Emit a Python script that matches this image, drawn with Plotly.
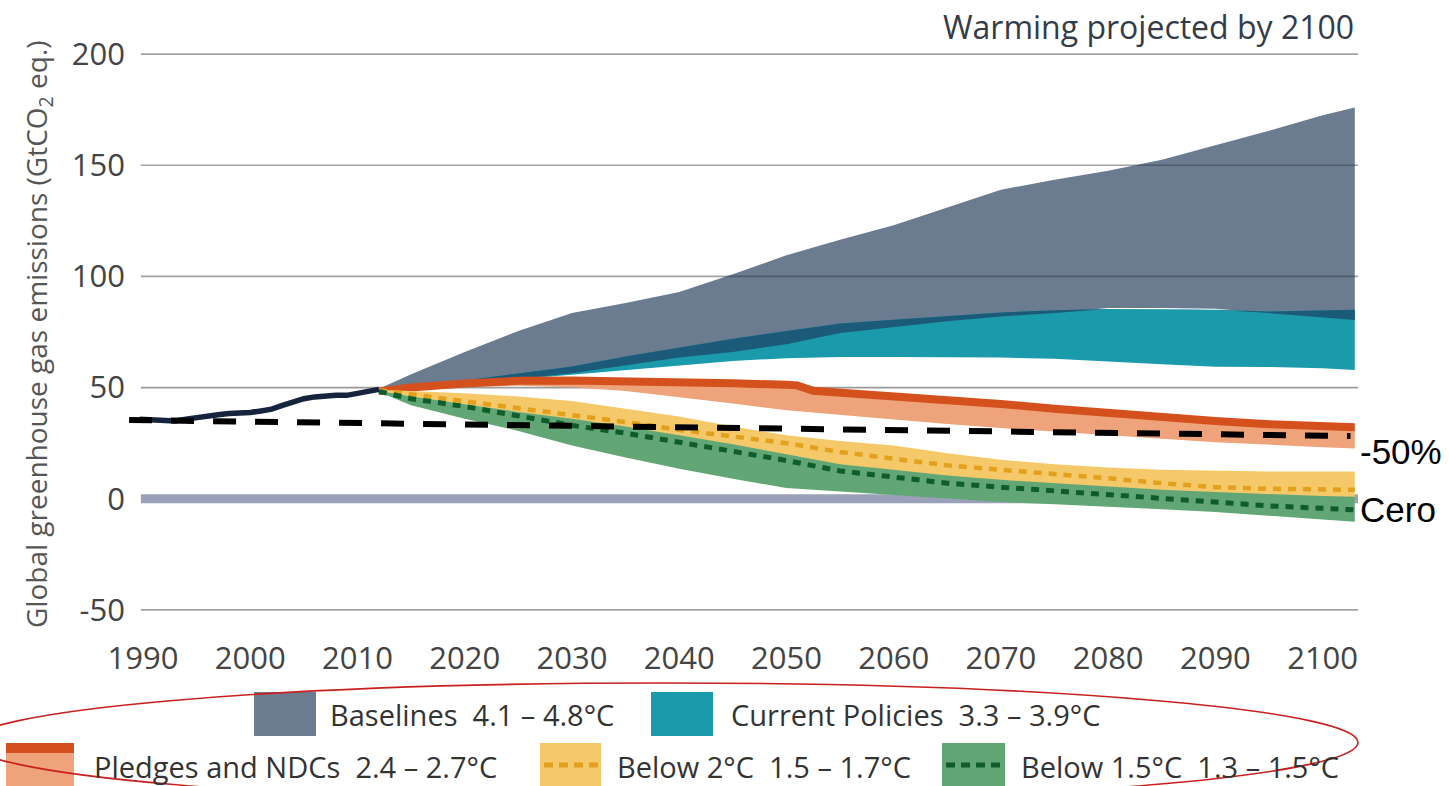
import numpy as np
import plotly.graph_objects as go

# ---------------- data ----------------
years = [2012, 2015, 2020, 2025, 2030, 2035, 2040, 2045, 2050, 2055, 2060,
         2065, 2070, 2075, 2080, 2085, 2090, 2095, 2100, 2103]

base_hi = [49.5, 56, 66, 75.5, 83.5, 88, 93, 101, 109.5, 116.5, 123,
           131, 139, 143.5, 147.5, 152.5, 159, 165.5, 172.5, 176]
base_lo = [49.5, 49.8, 51.5, 54, 56.5, 60, 63.5, 66, 69.5, 74.5, 77.2,
           79.8, 82, 83.5, 85.8, 85.8, 85.5, 83.5, 81.5, 80.4]

cur_hi = [49.5, 50.5, 53.2, 56.5, 59.5, 64, 68, 72, 75.5, 78.8, 80.5,
          82, 83.8, 84.8, 85.3, 85.2, 85, 84.2, 84.5, 85]
cur_lo = [49.5, 49.8, 51.5, 53.8, 56, 58, 60, 62, 63.2, 63.7, 63.8,
          63.8, 63.5, 63, 61.7, 60.5, 59.4, 59.3, 58.7, 57.9]

pl_years = [2012, 2015, 2020, 2025, 2030, 2035, 2040, 2045, 2050, 2051, 2052.5,
            2055, 2060, 2065, 2070, 2075, 2080, 2085, 2090, 2095, 2100, 2103]
pl_line = [48.3, 50, 51.8, 53.1, 53.2, 53, 52.5, 51.9, 51.3, 51, 48.6,
           47.8, 46.5, 44.4, 42.6, 40.5, 38.5, 36.6, 35, 33.5, 32.2, 32.1]
pl_lo = [48.3, 49.3, 50.3, 50.8, 50.2, 48.5, 45.5, 42.8, 39.8, 39.4, 38.8,
         37.6, 35.6, 33.6, 31.8, 30.2, 28.5, 27, 25.4, 24.3, 23.2, 22.6]

yel_hi = [49, 48.5, 47.5, 46, 44, 40.5, 37, 32.5, 28.5, 26, 24,
          20.5, 17.5, 15.5, 14, 13, 12.6, 12.3, 12.2, 12.2]
yel_mid = [48.8, 47, 44, 41, 37.5, 34.5, 31, 28, 25, 21, 18,
           15, 13, 11.3, 9.2, 7, 5.2, 4.5, 4.1, 4]
yel_lo = [48.5, 45.5, 41.5, 38, 34.5, 31, 27, 23, 18.5, 14.5, 12,
          9.5, 7.5, 6, 4.5, 3.3, 2.4, 1.5, 0.8, 0.5]

grn_hi = [48.5, 46, 42.5, 39, 36, 32.5, 28.5, 24.5, 20, 15.5, 13,
          10.5, 8.5, 7, 5.5, 4, 3, 2, 1.2, 0.9]
grn_mid = [48.3, 45, 41.5, 37, 33, 29.5, 25.5, 21.5, 17.2, 12.5, 9.5,
           7, 5.2, 3.5, 1.5, -0.3, -2, -3.2, -4.3, -5]
grn_lo = [48, 42, 36, 30.5, 24, 18.5, 13.5, 9, 4.8, 3, 1.5,
          0, -1.5, -2.5, -3.5, -4.7, -6, -7.5, -9.3, -10.3]

hist_years = [1989.7, 1991, 1992, 1993, 1994, 1995, 1996, 1997, 1998, 1999, 2000,
              2001, 2002, 2003, 2004, 2005, 2006, 2007, 2008, 2009, 2010, 2011, 2012]
hist_vals = [35.8, 35.5, 34.8, 35, 35.8, 36.6, 37.2, 37.8, 38.3, 38.4, 38.8,
             39.5, 40.3, 42, 43.8, 45, 45.8, 46.3, 46.6, 46.5, 47.5, 48.4, 49.2]

ref_years = [1988.7, 2102.6]
ref_vals = [35.4, 28.2]

x_ticks = [1990, 2000, 2010, 2020, 2030, 2040, 2050, 2060, 2070, 2080, 2090, 2100]
x_labels = [str(v) for v in x_ticks]
y_ticks = [-50, 0, 50, 100, 150, 200]
y_labels = ["-50", "0", "50", "100", "150", "200"]

legend_labels = ["Baselines\u00a0\u00a04.1 – 4.8°C",
                 "Current Policies\u00a0\u00a03.3 – 3.9°C",
                 "Pledges and NDCs\u00a0\u00a02.4 – 2.7°C",
                 "Below 2°C\u00a0\u00a01.5 – 1.7°C",
                 "Below 1.5°C\u00a0\u00a01.3 – 1.5°C"]

# ---------------- styles ----------------
C_BASE = "#6c7c90"
C_DARK = "#1c5a79"
C_TEAL = "#1b9aab"
C_PL_DARK = "#d4501c"
C_PL_LIGHT = "#eea37a"
C_YEL = "#f5c86a"
C_YEL_DASH = "#e3a01c"
C_GRN = "#62a676"
C_GRN_DASH = "#0e5d2a"
C_ZERO = "#9aa0b8"
TXT = "#444444"

W, H = 1449, 786
ML, MR, MT, MB = 128, 91, 43, 165
PW, PH = W - ML - MR, H - MT - MB


def px2x(px):
    return (px - ML) / PW


def py2y(py):
    return 1 - (py - MT) / PH


fig = go.Figure()


def band(x, lo, hi, color):
    xs = list(x) + list(x)[::-1]
    ys = list(hi) + list(lo)[::-1]
    fig.add_trace(go.Scatter(x=xs, y=ys, mode="lines", fill="toself",
                             fillcolor=color, line=dict(width=0),
                             hoverinfo="skip", showlegend=False))


def line(x, y, color, width, dash=None):
    fig.add_trace(go.Scatter(x=x, y=y, mode="lines",
                             line=dict(color=color, width=width, dash=dash),
                             hoverinfo="skip", showlegend=False))


ov_lo = np.minimum(np.array(base_lo), np.array(cur_hi))

band(years, base_lo, base_hi, C_BASE)
band(years, cur_lo, cur_hi, C_TEAL)
band(years, ov_lo, cur_hi, C_DARK)
band(pl_years, pl_lo, pl_line, C_PL_LIGHT)
line(pl_years, pl_line, C_PL_DARK, 8)
band(years, yel_lo, yel_hi, C_YEL)
line(years, yel_mid, C_YEL_DASH, 4.5, "8px,7px")
band(years, grn_lo, grn_hi, C_GRN)
line(years, grn_mid, C_GRN_DASH, 5, "8px,7px")
line(hist_years, hist_vals, "#15233d", 5.5)
line(ref_years, ref_vals, "#000000", 6, "23px,19px")

shapes = []
# zero line and gridlines
shapes.append(dict(type="line", xref="x", yref="y", x0=1989.8, x1=2103.3, y0=0, y1=0,
                   line=dict(color=C_ZERO, width=9), layer="below"))
for g in [-50, 100, 150, 200]:
    shapes.append(dict(type="line", xref="x", yref="y", x0=1989.8, x1=2103.3, y0=g, y1=g,
                       line=dict(color="rgba(45,50,60,0.45)", width=1.6), layer="above"))
shapes.append(dict(type="line", xref="x", yref="y", x0=1989.8, x1=2103.3, y0=50, y1=50,
                   line=dict(color="#9a9a9a", width=1.6), layer="below"))


# legend swatches (pixel boxes)
def rect(x0, y0, x1, y1, color):
    shapes.append(dict(type="rect", xref="paper", yref="paper",
                       x0=px2x(x0), x1=px2x(x1), y0=py2y(y1), y1=py2y(y0),
                       fillcolor=color, line=dict(width=0), layer="above"))


def hdash(x0, x1, y, color, width, dash):
    shapes.append(dict(type="line", xref="paper", yref="paper",
                       x0=px2x(x0), x1=px2x(x1), y0=py2y(y), y1=py2y(y),
                       line=dict(color=color, width=width, dash=dash), layer="above"))


rect(254, 692, 316, 736, C_BASE)
rect(651, 692, 713, 736, C_TEAL)
rect(6, 743, 74, 786, C_PL_LIGHT)
rect(6, 743, 74, 753, C_PL_DARK)
rect(540, 743, 601, 786, C_YEL)
hdash(544, 600, 765, C_YEL_DASH, 5, "9px,6px")
rect(942, 743, 1005, 786, C_GRN)
hdash(946, 1004, 765, C_GRN_DASH, 5, "9px,6px")

# red hand-drawn ellipse round the legend
shapes.append(dict(type="circle", xref="paper", yref="paper",
                   x0=px2x(-30), x1=px2x(1358), y0=py2y(802), y1=py2y(683),
                   line=dict(color="#c8201e", width=1.6), layer="above"))

annotations = []
leg_pos = [(328, 714), (729, 714), (92, 766), (615, 766), (1019, 766)]
for lab, (lx, ly) in zip(legend_labels, leg_pos):
    annotations.append(dict(text=lab, xref="paper", yref="paper", x=px2x(lx), y=py2y(ly),
                            xanchor="left", yanchor="middle", showarrow=False,
                            font=dict(family="Open Sans", size=29, color="#333333")))

annotations.append(dict(text="Warming projected by 2100", xref="paper", yref="paper",
                        x=px2x(1356), y=py2y(26), xanchor="right", yanchor="middle",
                        showarrow=False,
                        font=dict(family="Open Sans", size=32, color="#333c48")))
annotations.append(dict(text="Global greenhouse gas emissions (GtCO<sub>2</sub> eq.)",
                        xref="paper", yref="paper", x=px2x(38), y=py2y(334),
                        xanchor="center", yanchor="middle", textangle=-90, showarrow=False,
                        font=dict(family="Open Sans", size=28, color="#555555")))
annotations.append(dict(text="-50%", xref="paper", yref="y", x=1, y=ref_vals[-1] - 7,
                        xanchor="left", yanchor="middle", showarrow=False,
                        font=dict(family="Liberation Sans, Arial", size=35, color="#000000")))
annotations.append(dict(text="Cero", xref="paper", yref="y", x=1, y=-5,
                        xanchor="left", yanchor="middle", showarrow=False,
                        font=dict(family="Liberation Sans, Arial", size=35, color="#000000")))

fig.update_layout(
    width=W, height=H,
    margin=dict(l=ML, r=MR, t=MT, b=MB),
    paper_bgcolor="white", plot_bgcolor="white",
    showlegend=False,
    shapes=shapes,
    annotations=annotations,
    xaxis=dict(range=[1988.6, 2103.3], showgrid=False, zeroline=False, showline=False,
               tickmode="array", tickvals=x_ticks, ticktext=x_labels, ticks="",
               ticklabelstandoff=16,
               tickfont=dict(family="Open Sans", size=31, color=TXT)),
    yaxis=dict(range=[-55, 205], showgrid=False, zeroline=False, showline=False,
               tickmode="array", tickvals=y_ticks, ticktext=y_labels, ticks="",
               ticklabelstandoff=2,
               tickfont=dict(family="Open Sans", size=31, color=TXT)),
)

fig.write_html("out.html", config={"displayModeBar": False},
               post_script="document.body.style.margin='0px';document.body.style.overflow='hidden';")
